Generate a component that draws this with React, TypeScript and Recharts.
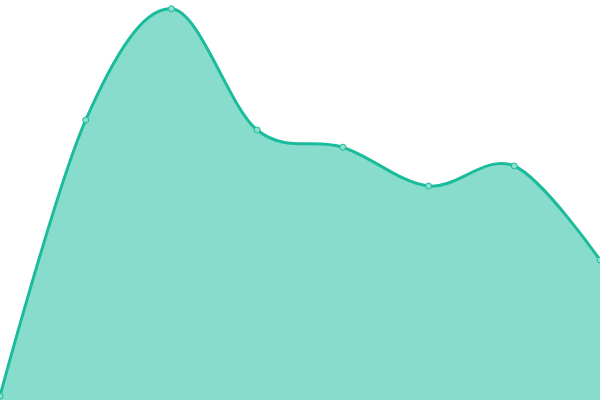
import React from "react";
import { AreaChart, Area, XAxis, YAxis } from "recharts";

const categories = ["A", "B", "C", "D", "E", "F", "G", "H"];
const values = [1, 70, 97.8, 67.5, 63.2, 53.5, 58.5, 35];

const data = categories.map((name, i) => ({ name, value: values[i] }));

// Cardinal spline curve factory (tension 0), same algorithm as d3-shape's curveCardinal
function cardPoint(that: any, x: number, y: number) {
  that._context.bezierCurveTo(
    that._x1 + that._k * (that._x2 - that._x0),
    that._y1 + that._k * (that._y2 - that._y0),
    that._x2 + that._k * (that._x1 - x),
    that._y2 + that._k * (that._y1 - y),
    that._x2,
    that._y2
  );
}

class Cardinal {
  _context: any;
  _k: number;
  _line: number = 0;
  _point: number = 0;
  _x0 = NaN; _x1 = NaN; _x2 = NaN; _y0 = NaN; _y1 = NaN; _y2 = NaN;
  constructor(context: any, tension: number) {
    this._context = context;
    this._k = (1 - tension) / 6;
  }
  areaStart() { this._line = 0; }
  areaEnd() { this._line = NaN; }
  lineStart() {
    this._x0 = this._x1 = this._x2 = this._y0 = this._y1 = this._y2 = NaN;
    this._point = 0;
  }
  lineEnd() {
    switch (this._point) {
      case 2: this._context.lineTo(this._x2, this._y2); break;
      case 3: cardPoint(this, this._x1, this._y1); break;
    }
    if (this._line || (this._line !== 0 && this._point === 1)) this._context.closePath();
    this._line = 1 - this._line;
  }
  point(x: number, y: number) {
    x = +x; y = +y;
    switch (this._point) {
      case 0:
        this._point = 1;
        if (this._line) this._context.lineTo(x, y); else this._context.moveTo(x, y);
        break;
      case 1:
        this._point = 2;
        this._x1 = x; this._y1 = y;
        break;
      case 2:
        this._point = 3;
        cardPoint(this, x, y);
        break;
      default:
        cardPoint(this, x, y);
        break;
    }
    this._x0 = this._x1; this._x1 = this._x2; this._x2 = x;
    this._y0 = this._y1; this._y1 = this._y2; this._y2 = y;
  }
}

const cardinalCurve: any = (context: any) => new Cardinal(context, 0);

export default function App() {
  return (
    <div style={{ position: "absolute", left: 0, top: 0, width: 600, height: 400, background: "#fff" }}>
      <AreaChart width={600} height={400} data={data} margin={{ top: 0, right: 0, bottom: 0, left: 0 }}>
        <XAxis dataKey="name" hide padding={{ left: 0, right: 0 }} />
        <YAxis hide domain={[0, 100]} />
        <Area
          type={cardinalCurve}
          dataKey="value"
          stroke="#1abc9c"
          strokeWidth={3}
          fill="#1abc9c"
          fillOpacity={0.52}
          dot={{ r: 3, stroke: "#1abc9c", strokeWidth: 1, fill: "#8ddfcd", fillOpacity: 1 }}
          activeDot={false}
          isAnimationActive={false}
        />
      </AreaChart>
    </div>
  );
}
